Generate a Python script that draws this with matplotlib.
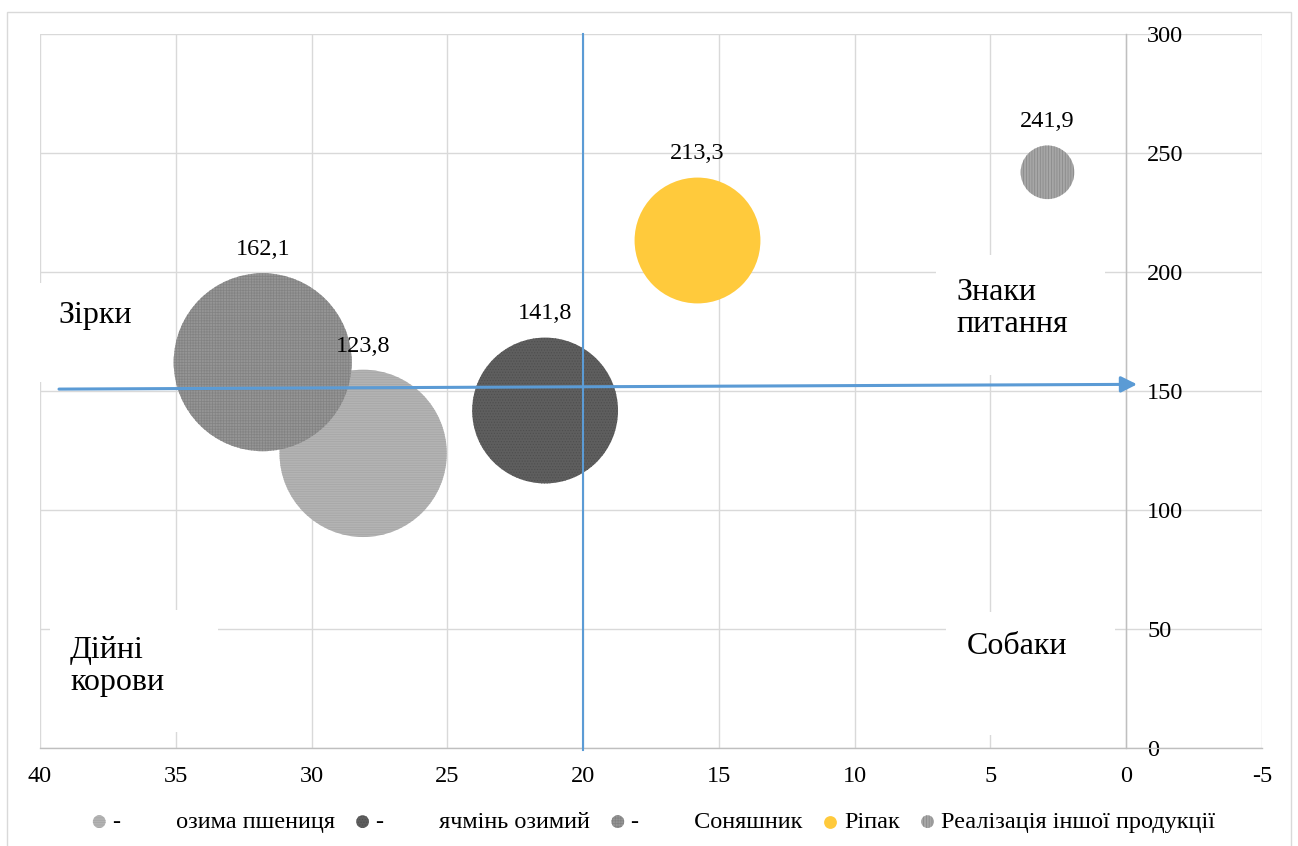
import numpy as np
import matplotlib
matplotlib.use("Agg")
import matplotlib.pyplot as plt
from matplotlib.patches import Rectangle

plt.rcParams['font.family'] = ['Liberation Serif', 'DejaVu Serif']
plt.rcParams['hatch.linewidth'] = 0.5

# ---- data ----
crops = ['озима пшениця', 'ячмінь озимий', 'Соняшник', 'Ріпак', 'Реалізація іншої продукції']
legend_labels = ['-         озима пшениця', '-         ячмінь озимий', '-         Соняшник',
                 'Ріпак', 'Реалізація іншої продукції']
x_vals = [28.1, 21.4, 31.8, 15.8, 2.9]
y_vals = [123.8, 141.8, 162.1, 213.3, 241.9]
bubble_sizes = [35.0, 26.6, 39.6, 19.8, 3.6]
x_ticks = [40, 35, 30, 25, 20, 15, 10, 5, 0, -5]
y_ticks = [0, 50, 100, 150, 200, 250, 300]
quadrant_labels = ['Зірки', 'Знаки\nпитання', 'Дійні\nкорови', 'Собаки']

# ---- styles ----
face_colors = ['#B3B3B3', '#5E5E5E', '#959595', '#FFCA3C', '#A6A6A6']
hatch_colors = ['#A5A5A5', '#4E4E4E', '#828282', '#FFCA3C', '#868686']
hatches = ['-------', '......', '++++++', None, '||||||']
SIZE_K = 414.7

W, H = 1298, 846
fig = plt.figure(figsize=(W / 100, H / 100), dpi=100)
ax = fig.add_axes([40 / W, 1 - 748 / H, (1262 - 40) / W, (748 - 34) / H])

def fx(px):
    return px / W

def fy(py):
    return 1 - py / H

# chart border
fig.patches.append(Rectangle((fx(7), fy(850)), fx(1291) - fx(7), fy(12) - fy(850),
                             transform=fig.transFigure, fill=False, edgecolor='#D9D9D9',
                             linewidth=1.0, zorder=-5))

ax.set_xlim(40, -5)
ax.set_ylim(0, 300)
ax.set_xticks(x_ticks)
ax.set_xticklabels([str(t) for t in x_ticks])
ax.set_yticks(y_ticks)
ax.set_yticklabels([str(t) for t in y_ticks])
ax.set_axisbelow(True)
ax.grid(True, color='#D9D9D9', linewidth=1.0)
for s in ['top', 'left']:
    ax.spines[s].set_visible(False)
ax.spines['bottom'].set_color('#BFBFBF')
ax.spines['bottom'].set_linewidth(1.0)
ax.yaxis.tick_right()
ax.spines['right'].set_position(('data', 0))
ax.spines['right'].set_color('#BFBFBF')
ax.spines['right'].set_linewidth(1.0)
ax.tick_params(axis='both', length=0, labelsize=17.5)
ax.tick_params(axis='x', pad=13)
ax.tick_params(axis='y', pad=15)
for lab in ax.get_yticklabels():
    lab.set_horizontalalignment('left')

# white boxes behind quadrant labels
boxes = [(38, 283, 170, 382), (936, 255, 1105, 375), (50, 610, 218, 732), (946, 612, 1115, 735)]
for (x0, y0, x1, y1) in boxes:
    ax.add_patch(Rectangle((fx(x0), fy(y1)), fx(x1) - fx(x0), fy(y0) - fy(y1),
                           transform=fig.transFigure, facecolor='white', edgecolor='none',
                           zorder=1, clip_on=False))

# baseline of last line of each label
quad_pos = [(58, 323), (956, 332), (70, 690), (967, 654)]
for lab, (px, py) in zip(quadrant_labels, quad_pos):
    fig.text(fx(px), fy(py), lab, fontsize=23, ha='left', va='baseline',
             linespacing=1.15, zorder=2)

# bubbles
handles = []
for i in range(len(crops)):
    s = SIZE_K * bubble_sizes[i]
    sc = ax.scatter([x_vals[i]], [y_vals[i]], s=s, c=face_colors[i],
                    edgecolors=hatch_colors[i], linewidths=0, hatch=hatches[i],
                    zorder=3, label=legend_labels[i])
    handles.append(sc)
    r_pt = np.sqrt(s) / 2
    ax.annotate(f"{y_vals[i]:.1f}".replace('.', ','), (x_vals[i], y_vals[i]),
                xytext=(0, r_pt + 17), textcoords='offset points',
                ha='center', va='center', fontsize=17.5, zorder=6)

# lines
ax.axvline(20, color='#5B9BD5', linewidth=1.5, zorder=4, ymin=-0.003, clip_on=False)
ax.annotate('', xy=(-0.4, 152.8), xytext=(39.3, 150.8),
            arrowprops=dict(arrowstyle='-|>', color='#5B9BD5', lw=2.2,
                            mutation_scale=24, shrinkA=0, shrinkB=0), zorder=5)

leg = fig.legend(handles=handles, loc='center', bbox_to_anchor=(0.503, fy(822)),
                 ncol=5, frameon=False, fontsize=17.5, handletextpad=0.2,
                 columnspacing=0.8, handlelength=0.7, scatterpoints=1)
for h in leg.legend_handles:
    h.set_sizes([85])

fig.savefig('out.png', dpi=100)
